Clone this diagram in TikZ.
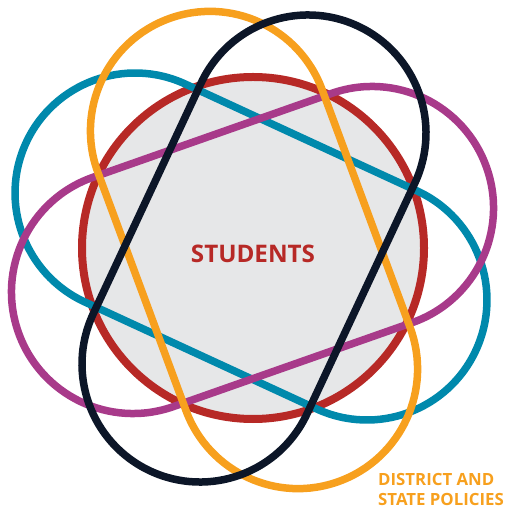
\documentclass[tikz,border=0pt]{standalone}
\usepackage{fontspec}
\setmainfont{Open Sans}
\definecolor{cOrange}{RGB}{247,160,30}
\definecolor{cNavy}{RGB}{12,22,40}
\definecolor{cTeal}{RGB}{0,137,172}
\definecolor{cMagenta}{RGB}{168,58,138}
\definecolor{cRed}{RGB}{183,41,38}
\definecolor{cFill}{RGB}{230,231,232}
\newcommand{\stadiumpath}[6]{%
  \draw[ring, draw=#1, shift={(#2,#3)}, rotate=#4]
    (-#5,-#6) -- (#5,-#6) arc[start angle=-90,end angle=90,radius=#6]
    -- (-#5,#6) arc[start angle=90,end angle=270,radius=#6] -- cycle;}
\begin{document}
\begin{tikzpicture}[x=1pt,y=1pt,
  ring/.style={line width=7.5pt},
  label/.style={font=\bfseries, inner sep=0pt}]
\useasboundingbox (0,0) rectangle (510,508);
\node[circle, draw=cRed, fill=cFill, line width=8pt, minimum size=342pt, inner sep=0pt] (students) at (253,260) {};
\stadiumpath{cTeal}{251}{261.5}{-24.76}{127.7}{120}
\stadiumpath{cMagenta}{252.5}{258}{19.37}{126.7}{121.5}
\stadiumpath{cOrange}{254}{258}{-69.7}{127}{119.5}
\stadiumpath{cNavy}{254}{259.5}{64.95}{127.5}{118}
\node[label, text=cRed, font=\bfseries\fontsize{24.2}{28}\selectfont, anchor=base] (stxt) at (253,245) {STUDENTS};
\node[label, text=cOrange, font=\bfseries\fontsize{16.8}{20}\selectfont, anchor=base west] (pol1) at (378,23) {DISTRICT AND};
\node[label, text=cOrange, font=\bfseries\fontsize{16.8}{20}\selectfont, anchor=base west] (pol2) at (378,3) {STATE POLICIES};
\end{tikzpicture}
\end{document}
